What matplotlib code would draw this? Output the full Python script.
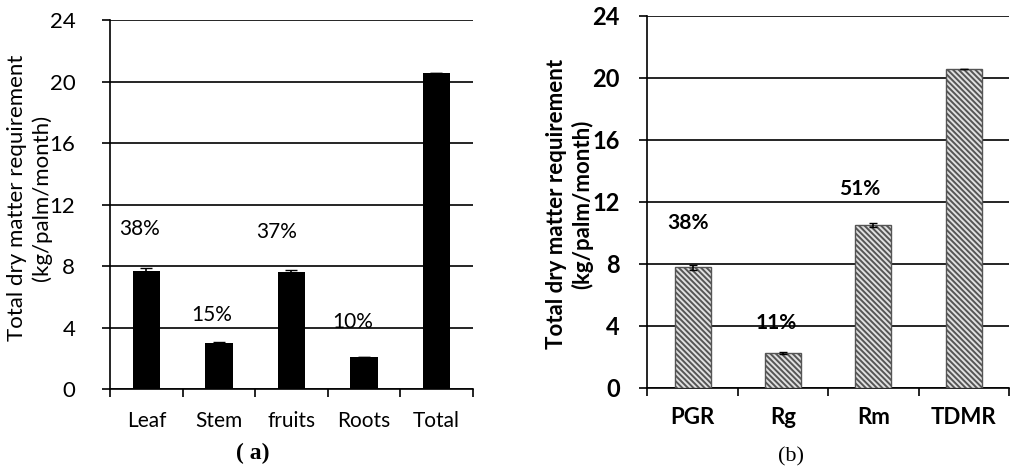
import matplotlib
matplotlib.use("Agg")
import matplotlib.pyplot as plt
import numpy as np

# Panel (a)
cats_a = ["Leaf", "Stem", "fruits", "Roots", "Total"]
vals_a = [7.7, 2.97, 7.63, 2.1, 20.53]
err_a = [0.2, 0.1, 0.1, 0.0, 0.0]
pct_a = ["38%", "15%", "37%", "10%"]
pct_a_y = [10.4, 4.8, 10.2, 4.35]

# Panel (b)
cats_b = ["PGR", "Rg", "Rm", "TDMR"]
vals_b = [7.77, 2.22, 10.5, 20.56]
err_b = [0.15, 0.05, 0.1, 0.0]
pct_b = ["38%", "11%", "51%"]
pct_b_y = [10.6, 4.15, 12.8]

yticks = [0, 4, 8, 12, 16, 20, 24]

plt.rcParams['hatch.linewidth'] = 1.4
plt.rcParams['hatch.color'] = '#222222'
fig = plt.figure(figsize=(10.10, 4.67), dpi=100)

def style_axes(ax, n, xpad, ypad):
    ax.set_ylim(0, 24)
    ax.set_xlim(0, n)
    ax.set_yticks(yticks)
    ax.yaxis.grid(True, color="black", linewidth=1.2)
    ax.set_axisbelow(True)
    for s in ["top", "right"]:
        ax.spines[s].set_visible(False)
    for s in ["left", "bottom"]:
        ax.spines[s].set_linewidth(1.2)
        ax.spines[s].set_color("black")
    ax.set_xticks(np.arange(n + 1), minor=False)
    ax.set_xticklabels([])
    ax.tick_params(axis="x", which="major", direction="out", length=6, width=1.2)
    ax.set_xticks(np.arange(n) + 0.5, minor=True)
    ax.tick_params(axis="x", which="minor", length=0, pad=xpad)
    ax.tick_params(axis="y", direction="out", length=6, width=1.2, pad=ypad)

# ---- (a)
ax1 = fig.add_axes([0.109, 0.167, 0.359, 0.790])
xa = np.arange(len(cats_a)) + 0.5
ax1.bar(xa, vals_a, width=0.38, color="black", zorder=3)
ax1.errorbar(xa, vals_a, yerr=err_a, fmt="none", ecolor="black", capsize=4, elinewidth=1.2, zorder=4)
style_axes(ax1, len(cats_a), 16, 19)
ax1.set_xticklabels(cats_a, minor=True, fontsize=15, family="Lato")
for lab in ax1.get_yticklabels():
    lab.set_fontsize(16); lab.set_family("Lato")
ax1.set_ylabel("Total dry matter requirement\n(kg/palm/month)", fontsize=16, family="Lato", linespacing=1.25, va="center")
ax1.yaxis.set_label_coords(-0.223, 0.518)
pct_xa = [0.4, 1.4, 2.3, 3.35]
for x, y, t in zip(pct_xa, pct_a_y, pct_a):
    ax1.text(x, y, t, ha="center", va="center", fontsize=15, family="Lato")
fig.text(0.250, 0.030, "( a)", ha="center", va="center", fontsize=17, fontweight="bold", family="Liberation Serif")

# ---- (b)
ax2 = fig.add_axes([0.641, 0.170, 0.358, 0.796])
xb = np.arange(len(cats_b)) + 0.5
ax2.bar(xb, vals_b, width=0.40, color="#e0e0e0", edgecolor="#555555", hatch="\\\\\\\\\\\\", linewidth=1.0, zorder=3)
ax2.errorbar(xb, vals_b, yerr=err_b, fmt="none", ecolor="black", capsize=3, elinewidth=1.2, zorder=4)
style_axes(ax2, len(cats_b), 14, 14)
ax2.set_xticklabels(cats_b, minor=True, fontsize=16, family="Lato", fontweight="bold")
for lab in ax2.get_yticklabels():
    lab.set_fontsize(17); lab.set_family("Lato"); lab.set_fontweight("bold")
ax2.set_ylabel("Total dry matter requirement\n(kg/palm/month)", fontsize=16, family="Lato", fontweight="bold", linespacing=1.2, va="center")
ax2.yaxis.set_label_coords(-0.215, 0.494)
pct_xb = [0.45, 1.43, 2.35]
for x, y, t in zip(pct_xb, pct_b_y, pct_b):
    ax2.text(x, y, t, ha="center", va="center", fontsize=15, family="Lato", fontweight="bold")
fig.text(0.783, 0.021, "(b)", ha="center", va="center", fontsize=16, family="Liberation Serif")

fig.savefig("out.png", dpi=100)
